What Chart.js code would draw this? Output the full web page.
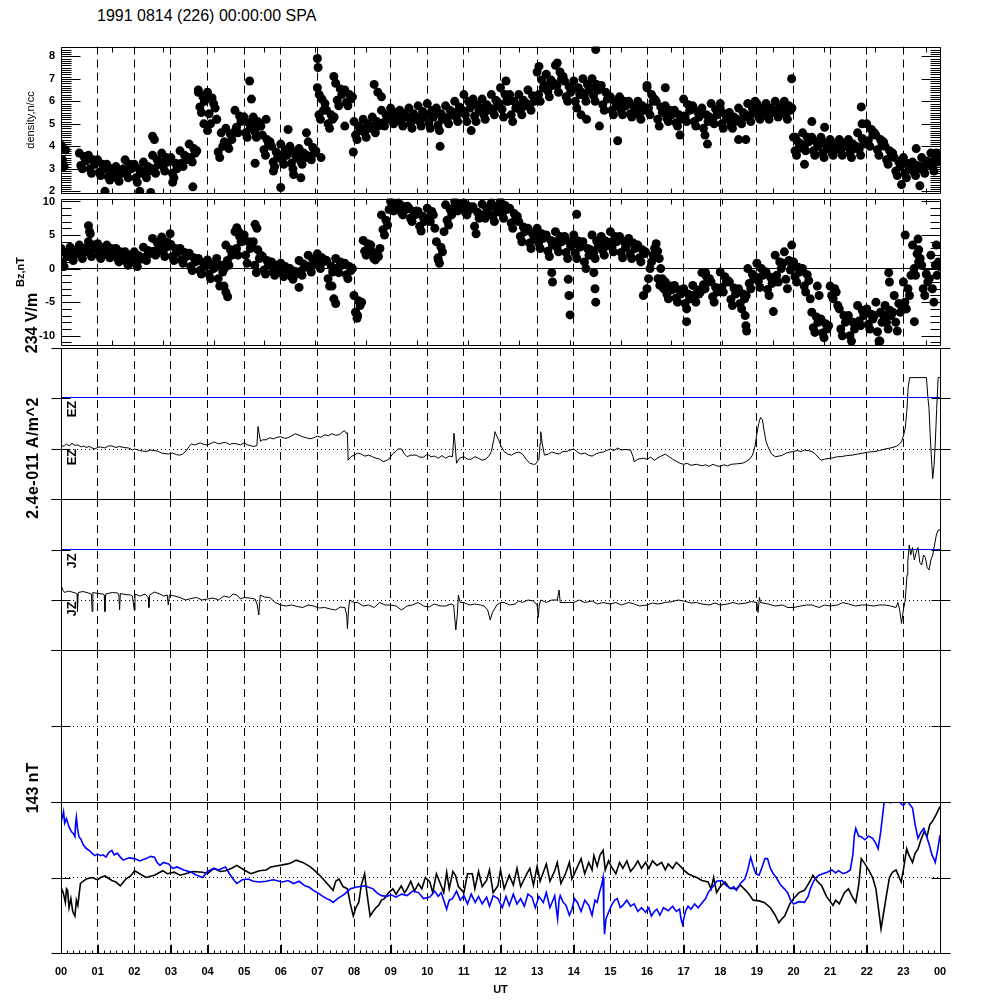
<!DOCTYPE html>
<html>
<head>
<meta charset="utf-8">
<title>1991 0814 (226) SPA</title>
<script src="https://cdn.jsdelivr.net/npm/chart.js@4.4.1/dist/chart.umd.min.js"></script>
<style>
html,body{margin:0;padding:0;background:#fff;}
#wrap{position:relative;width:1000px;height:1000px;overflow:hidden;background:#fff;}
#wrap canvas{position:absolute;left:0;z-index:1;}
.txt{position:absolute;z-index:2;font-family:'Liberation Sans',Arial,sans-serif;color:#000;white-space:nowrap;line-height:1;}
.rot{transform:translate(-50%,-50%) rotate(-90deg);}
</style>
</head>
<body>
<div id="wrap">
  <div class="txt" style="left:97px;top:8px;font-size:16px;">1991 0814 (226) 00:00:00 SPA</div>
  <div class="txt rot" style="left:32px;top:323px;font-size:16px;font-weight:bold;">234 V/m</div>
  <div class="txt rot" style="left:33px;top:458px;font-size:16px;font-weight:bold;letter-spacing:0.5px;">2.4e-011 A/m^2</div>
  <div class="txt rot" style="left:33px;top:788px;font-size:16px;font-weight:bold;">143 nT</div>
  <div class="txt rot" style="left:71px;top:409px;font-size:13px;font-weight:bold;">EZ</div>
  <div class="txt rot" style="left:71px;top:457px;font-size:13px;font-weight:bold;">EZ</div>
  <div class="txt rot" style="left:71px;top:561px;font-size:13px;font-weight:bold;">JZ</div>
  <div class="txt rot" style="left:71px;top:609px;font-size:13px;font-weight:bold;">JZ</div>
</div>
<script>
// ---------------- data ----------------
const X_LABELS = ['00','01','02','03','04','05','06','07','08','09','10','11','12','13','14','15','16','17','18','19','20','21','22','23','00'];
const HOUR_TICKS = [0,1,2,3,4,5,6,7,8,9,10,11,12,13,14,15,16,17,18,19,20,21,22,23,24];
const DENS_TICKS = [2,3,4,5,6,7,8];
const BZ_TICKS = [-10,-5,0,5,10];
const REF_LEVELS = [0,1];      // dotted baseline, blue reference level (EZ / JZ panels)
const ZERO_LEVEL = [0];
const SAMPLE_MIN = 5;          // minutes between successive samples below
const OFFSET_B_MIN = 2.5;      // second sample set is shifted by this many minutes

// density, n/cc  (5-minute samples from 00:00, one row per hour)
const DENSITY = [
 4.05,3.1,null, null,null,null, 3.7,3.0,3.35, 3.6,2.8,3.2,
 3.4,2.7,3.0, 3.2,2.5,2.8, 3.1,2.45,2.8, 3.4,2.6,3.0,
 3.2,2.4,2.8, 3.3,2.6,2.9, 3.6,2.8,3.2, 3.7,2.9,3.3,
 3.5,2.6,3.0, 3.8,3.1,3.4, 4.1,3.3,3.7, 6.4,5.5,6.0,
 6.4,5.0,5.9, 5.2,3.5,4.0, 4.8,3.9,4.3, 5.6,4.6,5.1,
 5.3,4.4,4.8, 5.3,4.4,4.9, 4.5,3.6,4.1, 4.0,3.1,3.5,
 4.1,3.2,3.6, 4.0,3.0,3.5, 3.9,3.2,3.5, 4.2,3.4,3.7,
 6.6,5.2,5.6, 5.6,4.8,5.2, 6.8,5.8,6.3, 6.5,5.8,6.1,
 5.1,4.3,4.7, 5.2,4.4,4.8, 5.3,4.6,4.9, 5.6,4.9,5.2,
 5.7,5.0,5.3, 5.6,4.9,5.3, 5.7,4.8,5.2, 5.8,4.9,5.3,
 5.9,4.8,5.3, 5.7,4.7,5.2, 5.8,5.0,5.4, 6.0,5.1,5.5,
 6.3,5.1,5.7, 6.1,5.1,5.6, 6.1,5.2,5.6, 6.3,5.4,5.8,
 6.6,5.3,6.0, 6.3,5.1,5.7, 6.3,5.4,5.8, 6.5,5.6,6.0,
 7.3,6.0,6.6, 7.2,6.2,6.7, 7.6,6.4,7.0, 6.9,6.0,6.4,
 6.9,5.7,6.3, 7.0,6.0,6.5, 7.0,6.0,6.5, 6.7,5.6,6.1,
 6.2,5.4,5.8, 6.2,5.4,5.8, 6.0,5.3,5.6, 6.0,5.2,5.6,
 6.6,5.4,6.0, 6.0,4.9,5.5, 5.8,5.1,5.4, 5.6,4.9,5.2,
 6.1,5.1,5.6, 5.8,4.9,5.3, 5.7,4.5,5.1, 5.9,5.0,5.4,
 5.7,4.8,5.2, 5.5,4.8,5.1, 5.7,5.0,5.3, 5.9,5.1,5.5,
 5.9,5.2,5.5, 5.9,5.2,5.5, 6.0,5.3,5.6, 6.0,5.2,5.6,
 4.4,3.6,4.0, 4.6,3.8,4.2, 4.4,3.6,4.0, 4.4,3.5,3.9,
 4.3,3.6,3.9, 4.3,3.6,4.0, 4.3,3.5,3.9, 4.6,3.6,4.1,
 5.0,4.0,4.5, 4.5,3.6,4.1, 4.0,3.2,3.6, 3.5,2.7,3.1,
 3.5,2.6,3.0, 3.3,2.7,3.0, 3.5,2.8,3.2, 3.7,2.9,3.3
];
// density, n/cc  (5-minute samples from 00:02:30, one row per hour)
const DENSITY_B = [
 3.4,3.85,null, null,null,null, 3.15,3.55,3.4, 3.0,3.4,3.3,
 2.85,3.2,3.0, 2.65,3.0,2.9, 2.6,2.95,3.0, 2.8,3.2,3.1,
 2.6,3.0,2.9, 2.75,3.1,3.0, 3.0,3.4,3.3, 3.1,3.5,3.4,
 2.8,3.25,3.2, 3.25,3.6,3.5, 3.5,3.9,3.8, 5.75,6.2,6.1,
 5.45,6.15,5.7, 3.75,4.6,4.2, 4.1,4.55,4.6, 4.85,5.35,5.2,
 4.6,5.05,4.9, 4.65,5.1,4.9, 3.85,4.3,4.2, 3.3,3.75,3.6,
 3.4,3.85,3.7, 3.25,3.75,3.6, 3.35,3.7,3.6, 3.55,3.95,3.8,
 5.4,6.1,5.9, 5.0,5.4,5.3, 6.05,6.55,6.4, 5.95,6.3,6.2,
 4.5,4.9,4.8, 4.6,5.0,4.9, 4.75,5.1,5.0, 5.05,5.4,5.3,
 5.15,5.5,5.4, 5.1,5.45,5.3, 5.0,5.45,5.3, 5.1,5.55,5.4,
 5.05,5.6,5.4, 4.95,5.45,5.3, 5.2,5.6,5.5, 5.3,5.75,5.6,
 5.4,6.0,5.8, 5.35,5.85,5.7, 5.4,5.85,5.7, 5.6,6.05,5.9,
 5.65,6.3,6.0, 5.4,6.0,5.8, 5.6,6.05,5.9, 5.8,6.25,6.1,
 6.3,6.95,6.7, 6.45,6.95,6.8, 6.7,7.3,7.1, 6.2,6.65,6.5,
 6.0,6.6,6.4, 6.25,6.75,6.6, 6.25,6.75,6.6, 5.85,6.4,6.2,
 5.6,6.0,5.9, 5.6,6.0,5.9, 5.45,5.8,5.7, 5.4,5.8,5.7,
 5.7,6.3,6.1, 5.2,5.75,5.6, 5.25,5.6,5.5, 5.05,5.4,5.3,
 5.35,5.85,5.7, 5.1,5.55,5.4, 4.8,5.4,5.3, 5.2,5.65,5.5,
 5.0,5.45,5.3, 4.95,5.3,5.2, 5.15,5.5,5.4, 5.3,5.7,5.6,
 5.35,5.7,5.6, 5.35,5.7,5.6, 5.45,5.8,5.7, 5.4,5.8,5.7,
 3.8,4.2,4.1, 4.0,4.4,4.3, 3.8,4.2,4.1, 3.7,4.15,4.0,
 3.75,4.1,4.0, 3.8,4.15,4.0, 3.7,4.1,4.0, 3.85,4.35,4.2,
 4.25,4.75,4.6, 3.85,4.3,4.2, 3.4,3.8,3.7, 2.9,3.3,3.2,
 2.8,3.25,3.1, 2.85,3.15,3.1, 3.0,3.35,3.3, 3.1,3.5,3.4
];
// isolated density points [hour, n/cc]
const DENS_EXTRA = [
 [1.2,2.0],[2.15,2.0],[2.45,1.95],[2.5,4.45],[2.55,4.3],[3.05,2.4],[3.6,2.2],[3.75,6.5],[3.9,5.0],[4.0,4.7],
 [4.25,5.2],[5.15,6.9],[5.2,6.1],[5.3,3.25],[5.6,5.2],[5.8,2.9],[6.0,2.17],[6.2,4.75],[6.35,2.75],[6.55,2.6],
 [6.7,4.6],[7.0,7.9],[7.02,7.5],[7.05,6.3],[7.1,3.5],[7.45,7.1],[7.75,4.9],[7.98,3.75],[8.55,6.75],[8.65,6.4],
 [8.75,6.2],[10.35,4.0],[11.2,4.7],[12.15,6.9],[13.05,7.55],[13.55,7.7],[14.2,5.4],[14.35,5.2],[14.6,8.3],[14.7,4.9],
 [15.2,4.25],[16.0,6.7],[16.5,6.6],[16.9,4.5],[17.65,4.1],[18.0,5.9],[18.5,4.3],[18.7,4.3],[18.95,6.0],[19.95,7.0],
 [20.05,4.4],[20.15,3.9],[20.3,3.2],[20.5,5.1],[20.85,4.85],[21.85,5.75],[21.87,5.0],[22.95,2.3],[23.35,3.9],[23.45,2.25],[23.9,3.7]
];

// Bz, nT (5-minute samples from 00:00, one row per hour)
const BZ = [
 3.0,0.3,1.8, 3.2,1.2,2.2, 3.5,1.5,2.5, 4.0,1.8,3.0,
 3.7,1.5,2.6, 3.5,1.6,2.5, 3.0,1.0,2.0, 2.5,0.5,1.5,
 2.5,0.3,1.4, 3.2,1.2,2.2, 4.5,2.0,3.2, 4.7,1.8,3.3,
 3.6,1.2,2.4, 3.0,0.8,1.8, 2.3,-0.3,1.0, 1.5,-0.8,0.3,
 1.3,-1.5,0.0, 1.5,-2.6,-0.5, 3.5,0.5,2.0, 5.5,2.0,4.0,
 5.0,0.8,3.0, 4.0,-0.6,1.5, 1.8,-0.8,0.5, 1.0,-1.0,0.0,
 0.8,-1.2,-0.2, 0.0,-1.6,-0.8, 1.2,-1.0,0.2, 2.0,-0.5,0.8,
 2.2,0.0,1.0, 1.2,-2.6,-0.5, 1.5,-0.6,0.5, 0.8,-1.5,-0.3,
 -4.0,-7.4,-5.5, 4.2,2.0,3.2, 2.5,1.3,1.8, 8.0,5.0,6.5,
 10.0,8.6,9.4, 9.6,8.0,8.8, 9.0,7.0,8.0, 8.5,5.6,7.0,
 9.0,7.0,8.0, 4.0,0.8,2.5, 9.5,6.5,8.0, 10.0,8.6,9.3,
 9.8,8.0,8.8, 9.2,5.2,7.5, 9.6,7.5,8.5, 9.8,7.0,8.5,
 10.0,7.5,8.8, 9.0,6.0,7.5, 7.0,4.0,5.5, 6.0,3.0,4.5,
 6.0,3.0,4.5, 5.0,1.8,3.5, 5.5,2.5,4.0, 4.8,1.5,3.3,
 5.0,1.5,3.2, 4.0,0.0,2.0, 5.0,1.5,3.2, 4.8,2.0,3.4,
 5.5,2.5,4.0, 4.8,1.6,3.2, 4.5,1.5,3.0, 3.5,1.0,2.2,
 -3.0,0.0,2.0, 3.7,1.5,-1.5, -2.0,-4.5,-3.2, -2.5,-5.0,-3.8,
 -3.0,-6.0,-4.5, -2.5,-5.0,-3.8, -0.6,-3.0,-1.8, -2.0,-5.0,-3.5,
 -0.5,-3.5,-2.0, -2.0,-5.5,-3.8, -3.0,-6.0,-4.5, 0.0,-3.0,-1.5,
 0.8,-2.8,-1.0, -0.5,-4.0,-2.2, 2.0,-2.0,0.0, 2.5,-3.0,-0.2,
 1.0,-2.0,-0.5, 0.0,-3.5,-1.8, -6.5,-9.5,-8.0, -7.5,-10.3,-9.0,
 -2.6,-4.5,-3.5, -6.0,-10.0,-8.0, -7.0,-10.8,-9.0, -5.5,-8.5,-7.0,
 -6.0,-9.0,-7.5, -5.0,-10.8,-8.0, -5.5,-9.0,-7.0, -4.0,-9.3,-6.5,
 -2.0,-6.0,-4.0, 3.5,-1.0,1.0, 0.5,-4.0,-2.0, 2.0,-5.0,-1.0
];
// Bz, nT (5-minute samples from 00:02:30, one row per hour)
const BZ_B = [
 1.0,2.4,2.0, 1.7,2.7,2.4, 2.0,3.0,2.8, 2.4,3.5,3.2,
 2.0,3.1,2.8, 2.0,3.0,2.7, 1.5,2.5,2.2, 1.0,2.0,1.7,
 0.8,1.9,1.6, 1.7,2.7,2.5, 2.6,3.9,3.5, 2.5,4.0,3.6,
 1.8,3.0,2.6, 1.3,2.4,2.0, 0.3,1.6,1.2, -0.3,0.9,0.6,
 -0.8,0.6,0.2, -1.5,0.5,0.0, 1.2,2.8,2.5, 3.0,4.8,4.2,
 2.0,4.0,3.5, 0.5,2.8,2.0, -0.2,1.2,0.8, -0.5,0.5,0.3,
 -0.7,0.3,0.0, -1.2,-0.4,-0.6, -0.4,0.7,0.4, 0.2,1.4,1.0,
 0.5,1.6,1.3, -1.5,0.4,0.0, 0.0,1.0,0.8, -0.9,0.3,0.0,
 -6.5,-4.8,-5.0, 2.6,3.7,3.5, 1.5,2.2,3.0, 5.8,7.2,8.8,
 9.0,9.7,9.8, 8.4,9.2,9.3, 7.5,8.5,8.6, 6.3,7.8,7.5,
 7.5,8.5,6.0, 1.6,3.2,5.5, 7.2,8.8,9.0, 9.0,9.7,9.6,
 8.4,9.3,9.0, 6.3,8.4,8.0, 8.0,9.0,9.2, 7.8,9.2,9.0,
 8.2,9.4,9.0, 6.8,8.2,7.8, 4.8,6.2,5.8, 3.8,5.2,5.0,
 3.8,5.2,4.8, 2.6,4.2,4.0, 3.2,4.8,4.4, 2.4,4.0,3.6,
 2.3,4.1,3.8, 1.0,3.0,2.8, 2.3,4.1,3.8, 2.7,4.1,3.9,
 3.2,4.8,4.5, 2.4,4.0,3.8, 2.2,3.8,3.5, 1.6,2.8,2.5,
 -1.5,1.0,3.0, 2.6,0.0,-3.0, -3.8,-2.6,-3.0, -4.4,-3.2,-3.5,
 -5.2,-3.8,-4.0, -4.4,-3.2,-3.5, -2.4,-1.2,-1.5, -4.2,-2.8,-3.0,
 -2.8,-1.2,-1.8, -4.6,-2.9,-3.2, -5.2,-3.8,-4.0, -2.2,-0.8,-1.2,
 -1.9,0.0,-0.5, -3.1,-1.3,-1.5, -1.0,1.0,0.8, -1.6,1.2,0.5,
 -1.2,0.2,-0.2, -2.6,-0.9,-4.5, -8.8,-7.2,-7.8, -9.6,-8.2,-8.5,
 -4.0,-3.0,-5.5, -9.0,-7.0,-7.5, -10.0,-8.0,-8.2, -7.8,-6.2,-6.5,
 -8.3,-6.8,-7.0, -9.4,-6.5,-7.0, -8.0,-6.2,-6.5, -8.0,-5.2,-5.5,
 -5.0,-3.0,-1.0, 0.0,2.2,1.5, -3.0,-0.8,-1.5, -3.0,0.5,1.0
];
const BZ_EXTRA = [
 [0.75,6.4],[0.78,5.5],[0.8,5.2],[2.98,5.2],[4.45,-2.6],[4.5,-3.5],[4.55,-4.2],[4.8,6.1],[4.85,5.5],[5.3,6.6],
 [5.35,6.0],[6.5,-2.8],[7.4,-2.6],[7.45,-4.5],[7.5,-5.2],[8.05,-6.5],[8.1,-7.0],[10.3,1.3],[13.4,-0.6],[13.42,-2.0],
 [13.85,-1.6],[13.87,-4.0],[13.9,-6.9],[14.08,8.1],[14.55,-0.6],[14.58,-3.0],[14.6,-5.0],[15.9,-4.0],[16.3,-1.5],[16.35,-2.5],
 [17.08,-7.9],[17.6,-0.6],[18.68,-7.0],[18.7,-8.5],[18.72,-9.3],[19.45,-6.4],[19.95,3.5],[20.65,-2.6],[20.7,-4.0],[22.36,-10.8],
 [22.6,-0.6],[22.62,-2.0],[23.05,5.0],[23.3,-7.9],[23.4,4.4],[23.42,2.8],[23.9,3.5],[24.0,0.3]
];

// EZ trace [hour, units of 234 V/m]
const EZ_TRACE = [
 [0,0.08],[0.08,0.05],[0.15,0.1],[0.22,0.06],[0.3,0.11],[0.38,0.07],[0.46,0.08],[0.55,0.04],[0.61,0.06],[0.7,0.03],
 [0.77,0.05],[0.85,0.02],[0.92,0.0],[1.0,0.03],[1.08,0.04],[1.2,0.02],[1.3,0.06],[1.39,0.06],[1.5,0.03],[1.6,0.05],
 [1.7,0.03],[1.85,0.02],[1.95,-0.02],[2.01,0.0],[2.15,-0.03],[2.32,-0.05],[2.45,-0.02],[2.63,-0.04],[2.75,-0.08],[2.94,-0.1],
 [3.05,-0.08],[3.15,-0.11],[3.24,-0.12],[3.32,-0.1],[3.4,-0.05],[3.5,0.05],[3.56,0.1],[3.65,0.08],[3.8,0.12],[3.9,0.09],
 [4.0,0.08],[4.1,0.11],[4.18,0.14],[4.3,0.1],[4.4,0.12],[4.49,0.13],[4.6,0.09],[4.7,0.11],[4.8,0.1],[4.9,0.08],
 [5.0,0.12],[5.1,0.08],[5.2,0.06],[5.27,0.05],[5.35,0.07],[5.38,0.44],[5.41,0.3],[5.45,0.15],[5.5,0.18],[5.6,0.18],
 [5.7,0.22],[5.8,0.2],[5.9,0.23],[6.0,0.24],[6.1,0.21],[6.2,0.22],[6.3,0.26],[6.4,0.3],[6.5,0.27],[6.6,0.24],
 [6.7,0.22],[6.8,0.2],[6.9,0.22],[7.0,0.25],[7.1,0.23],[7.2,0.28],[7.3,0.26],[7.4,0.3],[7.5,0.27],[7.6,0.28],
 [7.68,0.33],[7.74,0.36],[7.8,0.3],[7.82,0.32],[7.84,-0.22],[7.92,-0.15],[8.0,-0.12],[8.1,-0.08],[8.2,-0.1],[8.3,-0.14],
 [8.4,-0.12],[8.5,-0.15],[8.6,-0.18],[8.7,-0.2],[8.8,-0.25],[8.9,-0.22],[8.95,-0.2],[9.05,-0.1],[9.14,-0.05],[9.2,0.0],
 [9.3,0.0],[9.38,-0.1],[9.45,-0.15],[9.55,-0.12],[9.7,-0.12],[9.8,-0.16],[9.9,-0.16],[10.0,-0.1],[10.1,-0.15],[10.2,-0.14],
 [10.3,-0.18],[10.4,-0.13],[10.5,-0.18],[10.6,-0.14],[10.69,-0.15],[10.73,0.31],[10.76,0.1],[10.8,-0.28],[10.88,-0.18],[11.0,-0.15],
 [11.1,-0.2],[11.2,-0.2],[11.3,-0.15],[11.4,-0.18],[11.5,-0.22],[11.6,-0.2],[11.7,-0.12],[11.75,-0.05],[11.82,0.2],[11.85,0.34],
 [11.9,0.25],[11.95,0.18],[12.02,0.05],[12.1,-0.05],[12.2,-0.1],[12.3,-0.12],[12.4,-0.08],[12.5,-0.06],[12.6,-0.1],[12.7,-0.2],
 [12.8,-0.28],[12.9,-0.3],[12.95,-0.3],[13.05,-0.2],[13.08,0.1],[13.1,0.34],[13.14,0.1],[13.2,-0.12],[13.3,-0.1],[13.4,-0.06],
 [13.5,-0.08],[13.6,-0.1],[13.7,-0.05],[13.8,-0.05],[13.9,-0.02],[14.0,0.0],[14.1,-0.06],[14.2,-0.1],[14.3,-0.08],[14.4,-0.12],
 [14.5,-0.14],[14.6,-0.1],[14.7,-0.07],[14.8,-0.06],[14.9,-0.03],[15.0,0.0],[15.1,-0.03],[15.2,0.02],[15.3,-0.02],[15.4,-0.01],
 [15.55,-0.02],[15.62,-0.15],[15.65,-0.25],[15.75,-0.2],[15.9,-0.18],[16.0,-0.2],[16.1,-0.16],[16.2,-0.22],[16.35,-0.15],[16.5,-0.1],
 [16.6,-0.15],[16.7,-0.2],[16.8,-0.24],[16.9,-0.28],[17.0,-0.3],[17.1,-0.28],[17.2,-0.32],[17.35,-0.3],[17.5,-0.33],[17.6,-0.31],
 [17.7,-0.34],[17.8,-0.3],[17.9,-0.33],[18.0,-0.34],[18.1,-0.31],[18.2,-0.33],[18.3,-0.3],[18.45,-0.29],[18.6,-0.28],[18.7,-0.25],
 [18.8,-0.2],[18.88,-0.12],[18.95,0.05],[19.0,0.3],[19.05,0.5],[19.1,0.62],[19.15,0.58],[19.2,0.35],[19.25,0.15],[19.3,0.05],
 [19.4,-0.1],[19.5,-0.15],[19.6,-0.14],[19.7,-0.12],[19.8,-0.08],[19.9,-0.06],[20.0,-0.05],[20.1,-0.03],[20.2,-0.05],[20.3,-0.02],
 [20.4,-0.03],[20.5,-0.05],[20.6,-0.1],[20.7,-0.18],[20.75,-0.22],[20.85,-0.2],[21.0,-0.18],[21.1,-0.17],[21.2,-0.15],[21.3,-0.15],
 [21.45,-0.13],[21.6,-0.12],[21.75,-0.1],[21.9,-0.08],[22.05,-0.06],[22.2,-0.05],[22.35,-0.03],[22.5,0.0],[22.65,0.02],[22.8,0.05],
 [22.9,0.1],[22.95,0.15],[23.0,0.25],[23.05,0.4],[23.1,0.8],[23.13,1.2],[23.17,1.4],[23.63,1.4],[23.67,1.0],[23.7,0.8],
 [23.73,0.3],[23.76,-0.1],[23.8,-0.58],[23.84,-0.3],[23.87,0.1],[23.91,0.8],[23.95,1.4],[24.0,1.4]
];

// JZ trace [hour, units of 2.4e-11 A/m^2]
const JZ_TRACE = [
 [0,0.3],[0.05,0.2],[0.1,0.15],[0.2,0.18],[0.3,0.16],[0.4,0.14],[0.44,0.12],[0.45,-0.23],[0.47,0.15],[0.6,0.17],
 [0.75,0.14],[0.83,0.12],[0.85,-0.23],[0.87,0.15],[1.0,0.13],[1.15,0.12],[1.18,0.1],[1.2,-0.23],[1.22,0.12],[1.4,0.15],
 [1.55,0.14],[1.58,0.1],[1.6,-0.2],[1.62,0.13],[1.75,0.11],[1.9,0.1],[1.95,0.08],[2.0,-0.2],[2.02,0.12],[2.15,0.08],
 [2.3,0.12],[2.38,0.05],[2.4,-0.15],[2.42,0.1],[2.55,0.16],[2.7,0.12],[2.8,0.08],[2.9,0.1],[2.93,-0.1],[2.96,0.1],
 [3.1,0.08],[3.25,0.05],[3.4,0.0],[3.55,0.03],[3.7,0.05],[3.85,0.0],[4.0,0.02],[4.15,0.04],[4.3,0.0],[4.45,0.08],
 [4.6,0.05],[4.7,0.12],[4.8,0.1],[4.9,0.02],[5.0,0.05],[5.15,0.04],[5.3,0.02],[5.36,-0.1],[5.4,-0.3],[5.44,0.1],
 [5.55,0.06],[5.7,0.05],[5.85,-0.05],[6.0,-0.1],[6.15,-0.12],[6.3,-0.1],[6.45,-0.13],[6.6,-0.15],[6.75,-0.1],[6.9,-0.12],
 [7.05,-0.16],[7.2,-0.15],[7.35,-0.18],[7.5,-0.2],[7.62,-0.14],[7.75,-0.15],[7.8,-0.3],[7.82,-0.57],[7.85,-0.2],[7.88,0.0],
 [8.0,-0.05],[8.1,-0.05],[8.25,-0.12],[8.4,-0.1],[8.55,-0.15],[8.7,-0.05],[8.85,-0.1],[9.0,-0.1],[9.15,-0.12],[9.3,-0.2],
 [9.45,-0.12],[9.6,-0.1],[9.75,-0.05],[9.9,-0.12],[10.05,-0.14],[10.2,-0.08],[10.35,-0.12],[10.5,-0.12],[10.65,-0.08],[10.72,-0.1],
 [10.78,-0.6],[10.82,-0.3],[10.85,0.1],[10.9,-0.05],[11.0,-0.05],[11.15,-0.1],[11.3,-0.08],[11.45,-0.1],[11.55,-0.12],[11.65,-0.2],
 [11.72,-0.4],[11.78,-0.25],[11.9,-0.1],[12.0,-0.05],[12.1,-0.05],[12.25,-0.1],[12.4,-0.08],[12.5,-0.02],[12.6,-0.05],[12.75,0.0],
 [12.9,-0.02],[13.0,-0.1],[13.03,-0.35],[13.06,-0.1],[13.1,0.0],[13.25,-0.05],[13.4,0.0],[13.55,0.0],[13.6,0.2],[13.63,-0.05],
 [13.8,-0.05],[14.0,-0.05],[14.15,0.0],[14.3,-0.05],[14.5,-0.02],[14.65,-0.08],[14.8,-0.05],[15.0,-0.08],[15.15,-0.05],[15.3,-0.1],
 [15.5,-0.05],[15.65,-0.08],[15.8,-0.12],[16.0,-0.1],[16.15,-0.06],[16.3,-0.08],[16.5,-0.05],[16.7,-0.03],[16.85,0.0],[17.0,-0.02],
 [17.2,-0.06],[17.35,-0.05],[17.5,-0.08],[17.7,-0.1],[17.85,-0.06],[18.0,-0.1],[18.2,-0.08],[18.35,-0.05],[18.5,-0.08],[18.7,-0.06],
 [18.85,-0.03],[19.0,-0.05],[19.03,-0.25],[19.07,0.05],[19.1,-0.05],[19.3,-0.08],[19.5,-0.12],[19.7,-0.1],[19.85,-0.15],[20.0,-0.15],
 [20.2,-0.12],[20.35,-0.1],[20.5,-0.1],[20.7,-0.15],[20.85,-0.1],[21.0,-0.12],[21.2,-0.1],[21.35,-0.05],[21.5,-0.08],[21.7,-0.12],
 [21.85,-0.1],[22.0,-0.1],[22.2,-0.12],[22.35,-0.1],[22.5,-0.1],[22.65,-0.12],[22.8,-0.15],[22.85,-0.05],[22.9,-0.2],[22.95,-0.47],
 [23.0,-0.2],[23.05,0.0],[23.1,0.5],[23.12,0.77],[23.16,1.1],[23.2,0.9],[23.25,1.05],[23.3,0.8],[23.35,0.95],[23.4,1.05],
 [23.45,0.75],[23.5,0.7],[23.55,0.9],[23.6,0.85],[23.65,0.65],[23.7,0.6],[23.75,0.8],[23.8,0.9],[23.85,1.1],[23.9,1.3],
 [23.95,1.4],[24.0,1.4]
];

// magnetic perturbation traces [hour, units of 143 nT]
const DB_BLACK = [
 [0,-0.13],[0.06,-0.2],[0.12,-0.33],[0.15,-0.15],[0.18,-0.17],[0.22,-0.4],[0.27,-0.28],[0.32,-0.45],[0.38,-0.51],[0.42,-0.3],
 [0.46,-0.37],[0.53,-0.08],[0.6,-0.05],[0.69,-0.02],[0.85,0.0],[1.0,-0.03],[1.08,0.0],[1.2,0.02],[1.39,-0.04],[1.5,-0.06],
 [1.62,-0.11],[1.77,-0.02],[1.9,0.02],[2.01,0.09],[2.15,0.05],[2.32,0.0],[2.55,0.03],[2.78,0.09],[2.9,0.05],[3.09,0.07],
 [3.25,0.03],[3.4,0.05],[3.6,0.08],[3.87,0.07],[4.0,0.05],[4.18,0.12],[4.35,0.08],[4.49,0.09],[4.65,0.12],[4.8,0.16],
 [5.0,0.1],[5.18,0.05],[5.3,0.07],[5.42,0.09],[5.6,0.1],[5.73,0.14],[5.95,0.16],[6.19,0.18],[6.3,0.2],[6.42,0.23],
 [6.6,0.2],[6.81,0.14],[6.95,0.08],[7.12,0.0],[7.3,-0.1],[7.43,-0.17],[7.5,-0.05],[7.59,-0.02],[7.7,-0.12],[7.82,-0.15],
 [7.9,-0.35],[7.98,-0.51],[8.05,-0.4],[8.13,-0.33],[8.2,-0.1],[8.29,0.05],[8.35,-0.2],[8.44,-0.51],[8.52,-0.45],[8.6,-0.4],
 [8.67,-0.37],[8.75,-0.3],[8.83,-0.28],[8.95,-0.2],[9.06,-0.15],[9.15,-0.22],[9.29,-0.11],[9.38,-0.2],[9.45,-0.15],[9.55,-0.05],
 [9.65,-0.18],[9.76,-0.08],[9.85,-0.15],[9.95,0.0],[10.07,-0.06],[10.15,-0.2],[10.25,0.05],[10.38,-0.11],[10.45,-0.2],[10.53,0.07],
 [10.6,-0.15],[10.7,0.08],[10.77,0.03],[10.85,-0.12],[11.0,-0.2],[11.1,0.05],[11.23,0.05],[11.3,-0.15],[11.4,0.08],[11.5,-0.12],
 [11.62,-0.04],[11.7,0.1],[11.8,-0.2],[11.93,-0.11],[12.0,0.1],[12.1,-0.15],[12.24,0.03],[12.35,-0.1],[12.45,0.12],[12.55,-0.12],
 [12.7,0.03],[12.8,0.12],[12.9,-0.1],[13.0,0.15],[13.08,-0.05],[13.17,0.07],[13.25,0.18],[13.35,-0.05],[13.48,0.09],[13.55,0.2],
 [13.65,-0.08],[13.79,0.07],[13.88,0.2],[13.95,-0.02],[14.1,0.14],[14.2,0.25],[14.3,0.05],[14.41,0.2],[14.5,0.1],[14.55,0.29],
 [14.64,0.15],[14.72,0.3],[14.8,0.36],[14.86,0.1],[14.95,0.22],[15.03,0.14],[15.15,0.05],[15.25,0.2],[15.34,0.12],[15.45,0.22],
 [15.55,0.08],[15.65,0.14],[15.75,0.22],[15.85,0.12],[15.96,0.2],[16.05,0.12],[16.15,0.22],[16.27,0.16],[16.4,0.2],[16.5,0.1],
 [16.58,0.18],[16.7,0.12],[16.8,0.2],[16.89,0.16],[17.0,0.1],[17.12,0.05],[17.25,0.02],[17.36,0.0],[17.5,-0.04],[17.67,-0.06],
 [17.75,-0.15],[17.82,0.0],[17.9,-0.2],[18.0,-0.12],[18.13,-0.06],[18.25,-0.14],[18.44,-0.15],[18.55,-0.1],[18.75,-0.2],[18.9,-0.3],
 [19.06,-0.31],[19.2,-0.33],[19.37,-0.4],[19.5,-0.5],[19.6,-0.6],[19.68,-0.55],[19.76,-0.51],[19.9,-0.35],[20.0,-0.28],[20.15,-0.2],
 [20.3,-0.17],[20.45,-0.05],[20.53,0.03],[20.65,-0.05],[20.77,-0.11],[20.9,-0.25],[21.08,-0.37],[21.15,-0.3],[21.25,-0.35],[21.39,-0.2],
 [21.5,-0.15],[21.6,-0.25],[21.7,-0.33],[21.78,-0.1],[21.85,0.25],[21.95,0.18],[22.05,0.1],[22.16,0.0],[22.25,-0.15],[22.33,-0.45],
 [22.39,-0.68],[22.45,-0.5],[22.55,-0.2],[22.62,0.0],[22.7,0.07],[22.8,0.1],[22.94,-0.06],[23.0,0.1],[23.09,0.38],[23.15,0.3],
 [23.25,0.2],[23.32,0.32],[23.4,0.38],[23.48,0.5],[23.56,0.6],[23.65,0.55],[23.72,0.7],[23.79,0.74],[23.88,0.82],[24.0,0.94]
];
const DB_BLUE = [
 [0,0.74],[0.04,0.8],[0.07,0.87],[0.1,0.72],[0.15,0.78],[0.2,0.7],[0.22,0.67],[0.27,0.62],[0.3,0.6],[0.34,0.58],
 [0.38,0.54],[0.4,0.72],[0.42,0.8],[0.45,0.65],[0.49,0.54],[0.55,0.5],[0.61,0.43],[0.7,0.38],[0.77,0.36],[0.85,0.32],
 [0.92,0.29],[1.0,0.31],[1.08,0.29],[1.15,0.3],[1.23,0.27],[1.3,0.33],[1.39,0.36],[1.45,0.3],[1.54,0.32],[1.62,0.27],
 [1.7,0.23],[1.85,0.26],[2.01,0.25],[2.15,0.22],[2.32,0.25],[2.45,0.28],[2.55,0.27],[2.62,0.2],[2.7,0.16],[2.8,0.2],
 [2.94,0.18],[3.05,0.12],[3.17,0.14],[3.35,0.1],[3.56,0.07],[3.7,0.03],[3.87,0.0],[4.0,0.08],[4.18,0.12],[4.3,0.1],
 [4.49,0.14],[4.6,0.05],[4.7,-0.02],[4.8,-0.08],[4.95,-0.03],[5.11,-0.02],[5.25,-0.05],[5.42,-0.06],[5.6,-0.05],[5.8,-0.03],
 [6.04,-0.06],[6.2,-0.04],[6.35,-0.08],[6.5,-0.05],[6.66,-0.11],[6.78,-0.13],[6.89,-0.17],[7.0,-0.2],[7.12,-0.24],[7.25,-0.28],
 [7.35,-0.3],[7.43,-0.33],[7.55,-0.28],[7.65,-0.25],[7.74,-0.22],[7.9,-0.15],[8.05,-0.13],[8.17,-0.12],[8.29,-0.11],[8.4,-0.13],
 [8.52,-0.15],[8.62,-0.2],[8.75,-0.24],[8.9,-0.25],[9.02,-0.23],[9.14,-0.26],[9.3,-0.22],[9.45,-0.24],[9.6,-0.18],[9.76,-0.2],
 [9.9,-0.28],[10.07,-0.26],[10.2,-0.18],[10.3,-0.25],[10.38,-0.2],[10.45,-0.3],[10.53,-0.42],[10.6,-0.3],[10.69,-0.28],[10.8,-0.18],
 [10.9,-0.3],[11.0,-0.24],[11.1,-0.35],[11.2,-0.22],[11.31,-0.33],[11.4,-0.25],[11.5,-0.35],[11.62,-0.26],[11.7,-0.38],[11.8,-0.24],
 [11.93,-0.28],[12.05,-0.4],[12.15,-0.25],[12.24,-0.37],[12.35,-0.22],[12.45,-0.35],[12.55,-0.28],[12.65,-0.38],[12.75,-0.22],[12.86,-0.26],
 [12.95,-0.4],[13.05,-0.25],[13.17,-0.33],[13.25,-0.2],[13.35,-0.4],[13.48,-0.24],[13.52,-0.4],[13.56,-0.55],[13.6,-0.3],[13.63,-0.24],
 [13.7,-0.32],[13.79,-0.37],[13.88,-0.5],[13.95,-0.42],[14.02,-0.28],[14.1,-0.33],[14.2,-0.45],[14.3,-0.3],[14.41,-0.37],[14.5,-0.5],
 [14.58,-0.3],[14.64,-0.33],[14.7,-0.2],[14.76,-0.1],[14.8,0.0],[14.82,-0.5],[14.84,-0.75],[14.88,-0.55],[14.95,-0.46],[15.05,-0.35],
 [15.12,-0.3],[15.19,-0.28],[15.27,-0.4],[15.34,-0.37],[15.45,-0.3],[15.55,-0.38],[15.65,-0.35],[15.75,-0.45],[15.85,-0.4],[15.96,-0.46],
 [16.05,-0.4],[16.12,-0.51],[16.2,-0.45],[16.27,-0.42],[16.35,-0.5],[16.45,-0.4],[16.58,-0.44],[16.7,-0.38],[16.8,-0.45],[16.89,-0.42],
 [16.93,-0.55],[16.97,-0.62],[17.05,-0.45],[17.12,-0.38],[17.2,-0.42],[17.3,-0.35],[17.4,-0.4],[17.51,-0.33],[17.6,-0.28],[17.67,-0.2],
 [17.75,-0.15],[17.82,-0.11],[17.9,-0.05],[18.05,-0.04],[18.15,-0.1],[18.29,-0.15],[18.37,-0.12],[18.44,-0.17],[18.55,-0.08],[18.67,-0.02],
 [18.75,0.1],[18.83,0.27],[18.9,0.15],[18.97,0.05],[19.06,0.03],[19.15,0.15],[19.22,0.25],[19.29,0.25],[19.37,0.12],[19.45,0.05],
 [19.53,0.0],[19.65,-0.1],[19.75,-0.15],[19.84,-0.2],[19.92,-0.3],[20.0,-0.35],[20.15,-0.32],[20.3,-0.33],[20.4,-0.25],[20.46,-0.15],
 [20.55,-0.05],[20.62,0.0],[20.69,0.03],[20.8,0.05],[20.92,0.07],[21.05,0.1],[21.15,0.06],[21.23,0.09],[21.35,0.05],[21.46,0.07],
 [21.55,0.1],[21.62,0.3],[21.66,0.55],[21.7,0.65],[21.78,0.55],[21.85,0.54],[21.95,0.5],[22.05,0.55],[22.16,0.52],[22.25,0.45],
 [22.31,0.38],[22.38,0.6],[22.44,0.85],[22.47,0.98],[22.55,1.02],[22.65,0.99],[22.8,1.03],[22.94,0.98],[23.0,0.95],[23.09,1.02],
 [23.17,0.97],[23.25,0.92],[23.32,0.7],[23.4,0.52],[23.48,0.6],[23.56,0.65],[23.63,0.55],[23.71,0.43],[23.78,0.3],[23.83,0.25],
 [23.87,0.2],[23.93,0.35],[24.0,0.56]
];

// ---------------- helpers ----------------
Chart.defaults.font.family = "'Liberation Sans', Arial, sans-serif";
Chart.defaults.color = '#000';
const TICK_FONT = {size: 11, weight: 'bold'};
const EDGE_TICK_STEP = 5000/3600;   // top/bottom edge ticks of upper panels (5000 s)

function samples(vals, offsetMin) {
  const out = [];
  vals.forEach((v, i) => { if (v !== null) out.push({x: (i * SAMPLE_MIN + offsetMin) / 60, y: v}); });
  return out;
}
function pairs(list) { return list.map(p => ({x: p[0], y: p[1]})); }
function steps(a, b, step) {
  const r = []; const n = Math.floor((b - a) / step + 1e-6);
  for (let k = 0; k <= n; k++) r.push(+(a + k * step).toFixed(5));
  return r;
}

function frameTicks(cfg) {
  return {
    id: 'frameTicks',
    afterDraw(chart) {
      const {ctx, chartArea: a, scales} = chart;
      const xs = scales.x, ys = scales.y;
      const L = Math.round(a.left) + 0.5, R = Math.round(a.right) + 0.5;
      const T = Math.round(a.top) + 0.5, B = Math.round(a.bottom) + 0.5;
      ctx.save();
      ctx.strokeStyle = '#000'; ctx.lineWidth = 1; ctx.setLineDash([]);
      ctx.beginPath();
      ctx.rect(L, T, R - L, B - T);
      const h = (py, x0, x1) => { ctx.moveTo(x0, py); ctx.lineTo(x1, py); };
      const v = (px, y0, y1) => { ctx.moveTo(px, y0); ctx.lineTo(px, y1); };
      (cfg.yTicks || []).forEach(g => g.values.forEach(val => {
        const py = Math.round(ys.getPixelForValue(val)) + 0.5;
        if (py < T - 1 || py > B + 1) return;
        h(py, L - (g.out || 0), L + g.len);
        h(py, R - g.len, R + (g.out || 0));
      }));
      if (cfg.edge) [T, B].forEach(py => { h(py, L - cfg.edge.out, L + cfg.edge.len); h(py, R - cfg.edge.len, R + cfg.edge.out); });
      (cfg.xTicks || []).forEach(g => g.values.forEach(val => {
        const px = Math.round(xs.getPixelForValue(val)) + 0.5;
        if (g.top) v(px, T, T + g.len);
        if (g.bottom) v(px, B, B - g.len);
      }));
      ctx.stroke();
      ctx.restore();
    }
  };
}

const wrap = document.getElementById('wrap');

function panel(top, bottom, p) {
  const last = !!p.last;
  const cTop = top - 10;
  const cH = last ? 1000 - cTop : bottom - top + 20;
  const cv = document.createElement('canvas');
  cv.width = 1000; cv.height = cH;
  cv.style.top = cTop + 'px';
  cv.style.width = '1000px'; cv.style.height = cH + 'px';
  wrap.appendChild(cv);
  const yGrid = p.yGrid || {display: false};
  return new Chart(cv, {
    type: 'scatter',
    data: {datasets: p.datasets},
    options: {
      responsive: false, animation: false, devicePixelRatio: 1, events: [],
      layout: {padding: {left: 0, right: 60, top: 10, bottom: last ? 0 : 10}},
      plugins: {legend: {display: false}, tooltip: {enabled: false}},
      scales: {
        x: {
          type: 'linear', min: 0, max: 24, position: 'bottom',
          afterBuildTicks: s => { s.ticks = HOUR_TICKS.map(v => ({value: v})); },
          afterFit: s => { s.height = last ? 47 : 0; },
          grid: {
            drawTicks: false, lineWidth: 1,
            color: c => (c.tick && c.tick.value > 0 && c.tick.value < 24) ? '#000' : 'rgba(0,0,0,0)'
          },
          border: {display: false, dash: [8, 5]},
          ticks: last
            ? {display: true, padding: 12, autoSkip: false, maxRotation: 0, font: TICK_FONT, color: '#000',
               callback: (v, i) => X_LABELS[i]}
            : {display: false},
          title: last
            ? {display: true, text: 'UT', font: {size: 11, weight: 'bold'}, color: '#000', padding: {top: 0, bottom: 3}}
            : {display: false}
        },
        y: {
          type: 'linear', min: p.min, max: p.max, position: 'left',
          afterBuildTicks: s => { s.ticks = p.yTickVals.map(v => ({value: v})); },
          afterFit: s => { s.width = 61; },
          grid: Object.assign({drawTicks: false, lineWidth: 1}, yGrid),
          border: {display: false, dash: p.yDash || []},
          ticks: p.yLabels
            ? {display: true, padding: 6, font: TICK_FONT, color: '#000', callback: v => String(v)}
            : {display: false},
          title: p.yTitle ? Object.assign({display: true, color: '#000'}, p.yTitle) : {display: false}
        }
      }
    },
    plugins: [frameTicks(p.frame)]
  });
}

const dots = (data) => ({data, pointRadius: 4.5, pointHoverRadius: 4.5, pointBackgroundColor: '#000',
                         pointBorderWidth: 0, pointBorderColor: '#000', showLine: false, clip: 0});
const trace = (data, color, width) => ({data, showLine: true, borderColor: color, borderWidth: width,
                                        pointRadius: 0, pointHoverRadius: 0, tension: 0, clip: 0});

const edgeX = steps(EDGE_TICK_STEP, 24, EDGE_TICK_STEP);

// Panel 1: density
panel(44, 196, {
  min: 1.91, max: 8.43, yTickVals: DENS_TICKS, yLabels: true,
  yTitle: {text: 'density,n/cc', font: {size: 11}, padding: {top: 24, bottom: 0}},
  datasets: [dots(samples(DENSITY, 0).concat(samples(DENSITY_B, OFFSET_B_MIN), pairs(DENS_EXTRA)))],
  frame: {yTicks: [{values: DENS_TICKS, len: 19}, {values: steps(2, 8.4, 0.1), len: 10}],
          xTicks: [{values: edgeX, len: 5, top: true, bottom: true}]}
});
// Panel 2: Bz
panel(196, 348, {
  min: -11.44, max: 10.43, yTickVals: BZ_TICKS, yLabels: true,
  yTitle: {text: 'Bz,nT', font: {size: 11, weight: 'bold'}, padding: {top: 14, bottom: 0}},
  yGrid: {color: c => (c.tick && c.tick.value === 0) ? '#000' : 'rgba(0,0,0,0)'},
  datasets: [dots(samples(BZ, 0).concat(samples(BZ_B, OFFSET_B_MIN), pairs(BZ_EXTRA)))],
  frame: {yTicks: [{values: BZ_TICKS, len: 19}, {values: steps(-11, 10, 1), len: 10}],
          xTicks: [{values: edgeX, len: 5, top: true, bottom: true}]}
});
// Panel 3: EZ
const refGrid = {color: c => (c.tick && c.tick.value === 1) ? '#0000ff' : '#000'};
const refDash = c => (c.tick && c.tick.value === 0) ? [1, 3] : [];
panel(348, 499, {
  min: -0.98, max: 1.98, yTickVals: REF_LEVELS, yGrid: refGrid, yDash: refDash,
  datasets: [trace(pairs(EZ_TRACE), '#000', 1)],
  frame: {yTicks: [{values: REF_LEVELS, len: 9, out: 10}], edge: {len: 9, out: 10}}
});
// Panel 4: JZ
panel(499, 650, {
  min: -1.0, max: 2.02, yTickVals: REF_LEVELS, yGrid: refGrid, yDash: refDash,
  datasets: [trace(pairs(JZ_TRACE), '#000', 1)],
  frame: {yTicks: [{values: REF_LEVELS, len: 9, out: 10}], edge: {len: 9, out: 10}}
});
// Panel 5: empty
panel(650, 802, {
  min: -1, max: 1, yTickVals: ZERO_LEVEL, yGrid: {color: '#000'}, yDash: [1, 3],
  datasets: [],
  frame: {yTicks: [{values: ZERO_LEVEL, len: 9, out: 10}], edge: {len: 9, out: 10}}
});
// Panel 6: magnetic perturbations (143 nT)
panel(802, 953, {
  last: true, min: -1, max: 1, yTickVals: ZERO_LEVEL, yGrid: {color: '#000'}, yDash: [1, 3],
  datasets: [trace(pairs(DB_BLUE), '#0000ff', 1.6), trace(pairs(DB_BLACK), '#000', 1.6)],
  frame: {yTicks: [{values: ZERO_LEVEL, len: 9, out: 10}], edge: {len: 9, out: 10},
          xTicks: [{values: HOUR_TICKS, len: 9, bottom: true}, {values: steps(0, 24, 1/6), len: 3, bottom: true}]}
});
</script>
</body>
</html>
